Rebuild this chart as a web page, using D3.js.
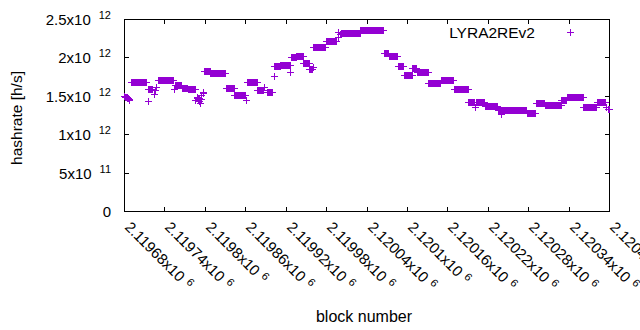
<!DOCTYPE html>
<html><head><meta charset="utf-8">
<script src="https://cdn.jsdelivr.net/npm/d3@7"></script>
<style>
html,body{margin:0;padding:0;background:#fff;}
svg{display:block;}
text{font-family:"Liberation Sans",Arial,sans-serif;fill:#000;}
</style></head>
<body>
<svg id="chart" width="640" height="330"></svg>
<script>
// ---- data (hashrate in units of 1e12 h/s) ----
const blockBase = 2119680;
// constant runs: first block offset, last block offset, hashrate
const runFirst = [10,36,51,76,86,95,119,128,151,164,183,198,212,223,232,248,256,266,275,281,300,322,351,386,393,407,416,428,435,452,470,490,511,522,536,555,598,612,625,649,657,682,702];
const runLast  = [32,42,73,85,94,105,127,150,163,179,197,206,219,231,246,255,265,274,279,299,315,350,385,392,406,414,427,434,451,469,489,510,520,535,553,597,610,624,648,656,681,701,714];
const runHash  = [1.678,1.59,1.706,1.645,1.60,1.585,1.82,1.80,1.60,1.505,1.68,1.58,1.553,1.889,1.902,2.006,2.02,1.93,1.85,2.137,2.22,2.318,2.356,2.059,2.02,1.889,1.765,1.86,1.805,1.67,1.70,1.586,1.415,1.414,1.37,1.32,1.27,1.40,1.38,1.45,1.49,1.36,1.42];
// isolated points: block offset, hashrate
const ptOffset = [0,1,2,3,4,5,6,7,8,35,44,46,48,74,106,108,109,110,111,112,113,114,115,117,118,181,208,222,247,280,317,318,320,521,560,611,716,718,720];
const ptHash   = [1.50,1.49,1.49,1.48,1.48,1.47,1.47,1.46,1.45,1.427,1.52,1.57,1.62,1.59,1.45,1.48,1.47,1.46,1.47,1.43,1.41,1.46,1.51,1.55,1.53,1.45,1.61,1.753,1.81,1.87,2.33,2.26,2.30,1.36,1.26,1.41,1.36,1.33,1.33];

const xTicks = [2119680,2119740,2119800,2119860,2119920,2119980,2120040,2120100,2120160,2120220,2120280,2120340,2120400];
const xTickMain = ["2.11968x10","2.11974x10","2.1198x10","2.11986x10","2.11992x10","2.11998x10","2.12004x10","2.1201x10","2.12016x10","2.12022x10","2.12028x10","2.12034x10","2.1204x10"];
const xTickExp = ["6","6","6","6","6","6","6","6","6","6","6","6","6"];
const yTicks = [0,0.5e12,1e12,1.5e12,2e12,2.5e12];
const yTickMain = ["0","5x10","1x10","1.5x10","2x10","2.5x10"];
const yTickExp = ["","11","12","12","12","12"];
const seriesName = "LYRA2REv2";

// ---- build point table ----
const points = [];
runFirst.forEach((f,i)=>{
  for(let b=f;b<=runLast[i];b++) points.push({block:blockBase+b, h:runHash[i]*1e12});
});
ptOffset.forEach((o,i)=>points.push({block:blockBase+o, h:ptHash[i]*1e12}));

const color = "#9400d3";
const svg = d3.select("#chart");
const L=124.5, R=609.5, T=19.5, B=211.5;
const x = d3.scaleLinear().domain([2119680,2120400]).range([L,R]);
const y = d3.scaleLinear().domain([0,2.5e12]).range([B,T]);
const tick = 4.5;

const g = svg.append("g");
// ticks (inward, mirrored)
yTicks.forEach((v,i)=>{
  const yy = Math.round(y(v)-0.5)+0.5;
  if(i>0 && i<yTicks.length-1){
    g.append("line").attr("x1",L).attr("x2",L+tick).attr("y1",yy).attr("y2",yy).attr("stroke","#000");
    g.append("line").attr("x1",R).attr("x2",R-tick).attr("y1",yy).attr("y2",yy).attr("stroke","#000");
  }
  const t = g.append("text").attr("x",111).attr("y",yy+5.5).attr("text-anchor","end").style("font-size","15px");
  t.append("tspan").text(yTickMain[i]);
  if(yTickExp[i]) t.append("tspan").attr("dx",8).attr("dy",-6.5).style("font-size","11px").text(yTickExp[i]);
});
xTicks.forEach((v,i)=>{
  const xx = Math.round(x(v)-0.5)+0.5;
  if(i>0 && i<xTicks.length-1){
    g.append("line").attr("x1",xx).attr("x2",xx).attr("y1",B).attr("y2",B-tick).attr("stroke","#000");
    g.append("line").attr("x1",xx).attr("x2",xx).attr("y1",T).attr("y2",T+tick).attr("stroke","#000");
  }
  const t = g.append("text").attr("transform",`translate(${xx-0.5},${228}) rotate(45)`).attr("text-anchor","start").style("font-size","15px");
  t.append("tspan").text(xTickMain[i]);
  t.append("tspan").attr("dx",5).attr("dy",-5).style("font-size","11px").text(xTickExp[i]);
});
// border
g.append("rect").attr("x",L).attr("y",T).attr("width",R-L).attr("height",B-T).attr("fill","none").attr("stroke","#000");

// axis titles
svg.append("text").attr("x",364).attr("y",322).attr("text-anchor","middle").style("font-size","16px").text("block number");
svg.append("text").attr("transform","translate(21.5,118) rotate(-90)").attr("text-anchor","middle").style("font-size","15.5px").text("hashrate [h/s]");

// points
const plus = "M-3.5,0H3.5M0,-3.5V3.5";
svg.append("g").selectAll("path").data(points).join("path")
  .attr("transform",d=>`translate(${Math.round(x(d.block)-0.5)+0.5},${Math.round(y(d.h)-0.5)+0.5})`)
  .attr("d",plus).attr("stroke",color).attr("stroke-width",1).attr("fill","none");

// legend
svg.append("text").attr("x",535).attr("y",38).attr("text-anchor","end").style("font-size","15.5px").text(seriesName);
svg.append("path").attr("transform","translate(570.5,32.5)").attr("d",plus).attr("stroke",color).attr("fill","none");
</script>
</body></html>
